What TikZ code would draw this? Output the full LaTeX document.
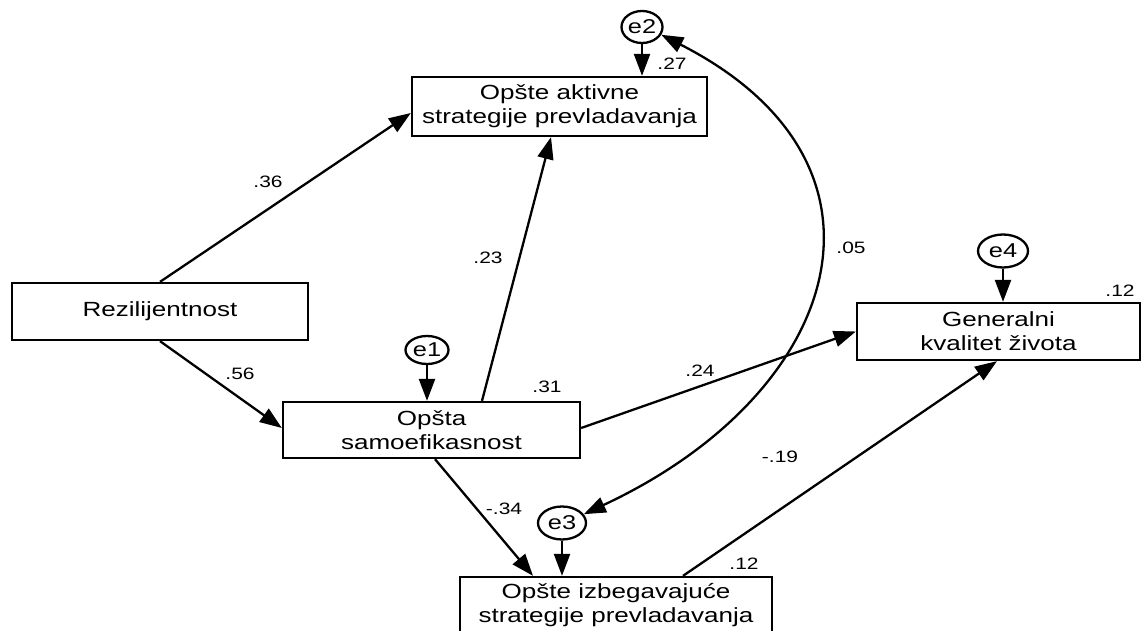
\documentclass[tikz,border=0pt]{standalone}
\usepackage{fontspec}
\setmainfont{Liberation Sans}[FakeStretch=1.27]
\usetikzlibrary{arrows.meta,shapes.geometric}

\begin{document}
\begin{tikzpicture}[x=1pt,y=1pt,
  var/.style={draw,line width=2.3pt,rectangle,inner sep=0pt,align=center,
    font=\fontsize{20.5}{24}\selectfont},
  err/.style={draw,line width=2.3pt,ellipse,inner sep=0pt,
    font=\fontsize{20}{21}\selectfont},
  coef/.style={inner sep=0pt,font=\fontsize{16.5}{18}\selectfont},
  path/.style={line width=2.3pt,-{Triangle[length=22pt,width=16pt]}},
  cov/.style={line width=2.3pt,{Triangle[length=22pt,width=16pt]}-{Triangle[length=22pt,width=16pt]}}]

\useasboundingbox (0,0) rectangle (1143,630);
\clip (0,0) rectangle (1143,630);

% observed variables
\node[var,minimum width=296pt,minimum height=57pt] (R) at (160,318.5) {Rezilijentnost};
\node[var,minimum width=295pt,minimum height=59pt] (A) at (559.5,523.5) {Opšte aktivne\\strategije prevladavanja};
\node[var,minimum width=297pt,minimum height=56pt] (S) at (431.5,200) {Opšta\\samoefikasnost};
\node[var,minimum width=283pt,minimum height=57pt] (G) at (998.5,298.5) {Generalni\\kvalitet života};
\node[var,minimum width=312pt,minimum height=57pt] (I) at (616,24.5) {Opšte izbegavajuće\\strategije prevladavanja};

% residuals
\node[err,minimum width=43pt,minimum height=28pt] (e1) at (427,280) {e1};
\node[err,minimum width=41pt,minimum height=32pt] (e2) at (642,603) {e2};
\node[err,minimum width=48pt,minimum height=33pt] (e3) at (562,107) {e3};
\node[err,minimum width=50pt,minimum height=33pt] (e4) at (1003,379) {e4};

% regression paths
\draw[path] (R.north) -- ([yshift=-6.5pt]A.west);
\draw[path] (R.south) -- ([yshift=2pt]S.west);
\draw[path] ([xshift=50.5pt]S.north) -- ([xshift=-8.5pt]A.south);
\draw[path] ([yshift=2pt]S.east) -- (G.west);
\draw[path] ([xshift=3.5pt]S.south) -- ([xshift=-83pt]I.north);
\draw[path] ([xshift=67pt]I.north) -- ([xshift=-1.5pt]G.south);

% residual paths
\draw[path] (e1.south) -- (e1.south |- S.north);
\draw[path] (e2.south) -- (e2.south |- A.north);
\draw[path] (e3.south) -- (e3.south |- I.north);
\draw[path] (e4.south) -- (e4.south |- G.north);

% residual covariance
\draw[cov] (e2.-22) .. controls +(-27:285pt) and +(25:285pt) .. (e3.22);

% coefficients
\node[coef] (c36) at (268,448) {.36};
\node[coef] (c56) at (240,256) {.56};
\node[coef] (c23) at (488,372) {.23};
\node[coef] (c24) at (700,259) {.24};
\node[coef] (c34) at (504,121) {-.34};
\node[coef] (c19) at (780,173) {-.19};
\node[coef] (c05) at (851,382) {.05};

% squared multiple correlations
\node[coef] (r27) at (672,566) {.27};
\node[coef] (r31) at (547,243) {.31};
\node[coef] (r12g) at (1120,339) {.12};
\node[coef] (r12i) at (744,66) {.12};
\end{tikzpicture}
\end{document}
